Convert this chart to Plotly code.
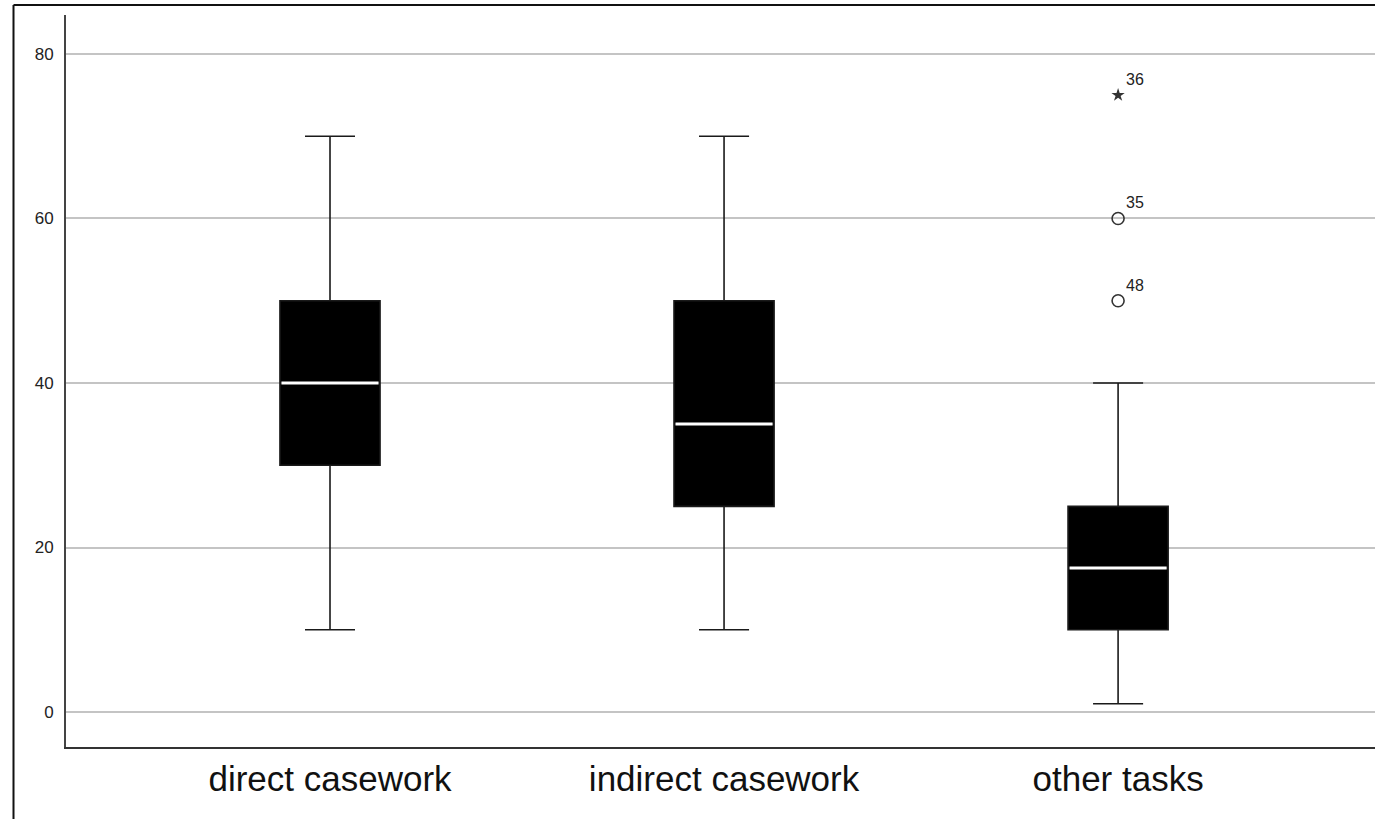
import plotly.graph_objects as go

categories = ["direct casework", "indirect casework", "other tasks"]
lower_whisker = [10, 10, 1]
q1 = [30, 25, 10]
median = [40, 35, 17.5]
q3 = [50, 50, 25]
upper_whisker = [70, 70, 40]

outlier_cat = [2, 2, 2]
outlier_values = [50, 60, 75]
outlier_ids = ["48", "35", "36"]
outlier_extreme = [False, False, True]

y_ticks = [0, 20, 40, 60, 80]

pos = list(range(len(categories)))
box_w = 0.254

fig = go.Figure()

fig.add_trace(go.Box(
    x=pos, q1=q1, median=median, q3=q3,
    lowerfence=lower_whisker, upperfence=upper_whisker,
    width=box_w, whiskerwidth=0.5,
    fillcolor="black", line=dict(color="#1a1a1a", width=1.6),
    boxpoints=False, showlegend=False, hoverinfo="skip",
))

# white median lines
mx, my = [], []
for p, m in zip(pos, median):
    mx += [p - box_w / 2 * 0.97, p + box_w / 2 * 0.97, None]
    my += [m, m, None]
fig.add_trace(go.Scatter(x=mx, y=my, mode="lines",
                         line=dict(color="white", width=3),
                         showlegend=False, hoverinfo="skip"))

# outliers
circ_x = [c for c, e in zip(outlier_cat, outlier_extreme) if not e]
circ_y = [v for v, e in zip(outlier_values, outlier_extreme) if not e]
star_x = [c for c, e in zip(outlier_cat, outlier_extreme) if e]
star_y = [v for v, e in zip(outlier_values, outlier_extreme) if e]
fig.add_trace(go.Scatter(x=circ_x, y=circ_y, mode="markers",
                         marker=dict(symbol="circle-open", size=12,
                                     color="#333", line=dict(width=1.6)),
                         showlegend=False, hoverinfo="skip"))
fig.add_trace(go.Scatter(x=star_x, y=star_y, mode="markers",
                         marker=dict(symbol="star", size=10, color="#333",
                                     line=dict(width=0)),
                         showlegend=False, hoverinfo="skip"))

for c, v, t in zip(outlier_cat, outlier_values, outlier_ids):
    fig.add_annotation(x=c, y=v, text=t, showarrow=False,
                       xanchor="left", yanchor="bottom", xshift=6, yshift=5,
                       font=dict(family="Liberation Sans, Arial", size=16, color="#222"))

W, H = 1375, 819
ml, mr, mt, mb = 66, 0, 15, 72
pw, ph = W - ml - mr, H - mt - mb

# outer frame (left and top edges)
fx = (13.5 - ml) / pw
fy_top = 1 + (mt - 5) / ph
fy_bot = -(mb + 5) / ph
fig.add_shape(type="line", xref="paper", yref="paper", x0=fx, x1=1.05,
              y0=fy_top, y1=fy_top, line=dict(color="#111", width=2))
fig.add_shape(type="line", xref="paper", yref="paper", x0=fx, x1=fx,
              y0=fy_top, y1=fy_bot, line=dict(color="#111", width=2))

fig.update_layout(
    width=W, height=H,
    margin=dict(l=ml, r=mr, t=mt, b=mb, pad=0),
    plot_bgcolor="white", paper_bgcolor="white",
    font=dict(family="Liberation Sans, Arial", color="#222"),
    xaxis=dict(range=[-0.670, 2.652], tickvals=pos, ticktext=categories,
               showgrid=False, zeroline=False, showline=True,
               linecolor="#333", linewidth=2, ticks="",
               tickfont=dict(size=35, color="#111"), ticklabelstandoff=0),
    yaxis=dict(range=[-4.255, 84.74], tickvals=y_ticks,
               showgrid=True, gridcolor="#c4c4c4", gridwidth=1.5,
               zeroline=False, showline=True, linecolor="#444", linewidth=2,
               ticks="", tickfont=dict(size=17, color="#222"),
               ticklabelstandoff=7),
)

fig.write_html("out.html",
               config={"displayModeBar": False},
               post_script="document.body.style.margin='0';"
                           "document.body.style.overflow='hidden';")
